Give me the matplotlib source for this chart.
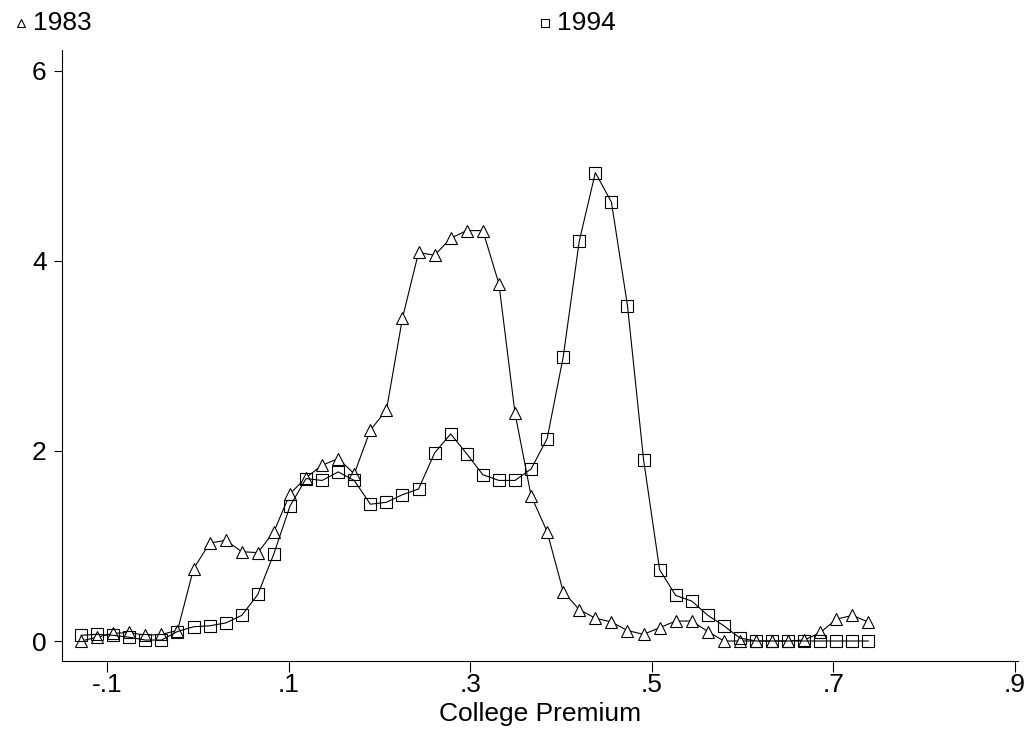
import numpy as np
import matplotlib.pyplot as plt
from matplotlib.lines import Line2D

# grid of college premium values (50 points)
premium = [-0.1286, -0.1109, -0.0932, -0.0755, -0.0578, -0.0401, -0.0224, -0.0047,
           0.0130, 0.0307, 0.0484, 0.0661, 0.0838, 0.1015, 0.1192, 0.1369,
           0.1546, 0.1723, 0.1900, 0.2077, 0.2254, 0.2431, 0.2608, 0.2785,
           0.2962, 0.3139, 0.3316, 0.3493, 0.3670, 0.3847, 0.4024, 0.4201,
           0.4378, 0.4555, 0.4732, 0.4909, 0.5086, 0.5263, 0.5440, 0.5617,
           0.5794, 0.5971, 0.6148, 0.6325, 0.6502, 0.6679, 0.6856, 0.7033,
           0.7210, 0.7383]

# density estimates
dens_1983 = [0.00, 0.04, 0.08, 0.09, 0.06, 0.07, 0.11, 0.76, 1.03, 1.06,
             0.94, 0.93, 1.15, 1.55, 1.72, 1.85, 1.92, 1.76, 2.22, 2.43,
             3.40, 4.09, 4.06, 4.24, 4.32, 4.32, 3.76, 2.40, 1.53, 1.15,
             0.52, 0.33, 0.24, 0.20, 0.11, 0.07, 0.14, 0.21, 0.21, 0.10,
             0.00, 0.00, 0.00, 0.00, 0.00, 0.01, 0.09, 0.23, 0.27, 0.20]

dens_1994 = [0.06, 0.07, 0.06, 0.04, 0.01, 0.01, 0.10, 0.15, 0.16, 0.19,
             0.27, 0.49, 0.92, 1.42, 1.71, 1.69, 1.78, 1.69, 1.44, 1.46,
             1.54, 1.60, 1.98, 2.18, 1.97, 1.75, 1.69, 1.69, 1.81, 2.13,
             2.99, 4.21, 4.93, 4.62, 3.53, 1.91, 0.75, 0.48, 0.42, 0.27,
             0.16, 0.03, 0.00, 0.00, 0.00, 0.00, 0.00, 0.00, 0.00, 0.00]

x_ticks = [-0.1, 0.1, 0.3, 0.5, 0.7, 0.9]
x_labels = ['-.1', '.1', '.3', '.5', '.7', '.9']
y_ticks = [0, 2, 4, 6]

plt.rcParams['font.family'] = ['Liberation Sans', 'DejaVu Sans']

W, H = 1034, 729
fig = plt.figure(figsize=(W / 100, H / 100), dpi=100)
ax = fig.add_axes([62 / W, 68 / H, (1018 - 62) / W, (661 - 50) / H])

# 1983: triangles (white filled so the line stops at the edge)
ax.plot(premium, dens_1983, color='black', lw=0.8, zorder=2)
ax.plot(premium, dens_1983, ls='none', marker='^', ms=8, mfc='white',
        mec='black', mew=0.8, zorder=3)
# 1994: hollow squares
ax.plot(premium, dens_1994, color='black', lw=0.8, zorder=4)
ax.plot(premium, dens_1994, ls='none', marker='s', ms=8, mfc='none',
        mec='black', mew=0.8, zorder=5)

ax.set_xlim(-0.1496, 0.9033)
ax.set_ylim(-0.2105, 6.221)
ax.set_xticks(x_ticks)
ax.set_xticklabels(x_labels)
ax.set_yticks(y_ticks)
ax.tick_params(axis='both', direction='out', labelsize=19, width=0.8, color='black')
ax.tick_params(axis='x', length=8, pad=1)
ax.tick_params(axis='y', length=6, pad=5)
ax.set_xlabel('College Premium', fontsize=19, va='center')
ax.xaxis.set_label_coords(0.5, -53 / 611)

for side in ['top', 'right']:
    ax.spines[side].set_visible(False)
for side in ['left', 'bottom']:
    ax.spines[side].set_linewidth(0.8)

# key at the top
fig.add_artist(Line2D([21 / W], [1 - 23 / H], transform=fig.transFigure,
                      marker='^', ms=6, mfc='white', mec='black', mew=0.8))
fig.text(33 / W, 1 - 23 / H, '1983', fontsize=19, va='center', ha='left')
fig.add_artist(Line2D([545 / W], [1 - 23 / H], transform=fig.transFigure,
                      marker='s', ms=6, mfc='none', mec='black', mew=0.8))
fig.text(557 / W, 1 - 23 / H, '1994', fontsize=19, va='center', ha='left')

fig.savefig('out.png', dpi=100)
